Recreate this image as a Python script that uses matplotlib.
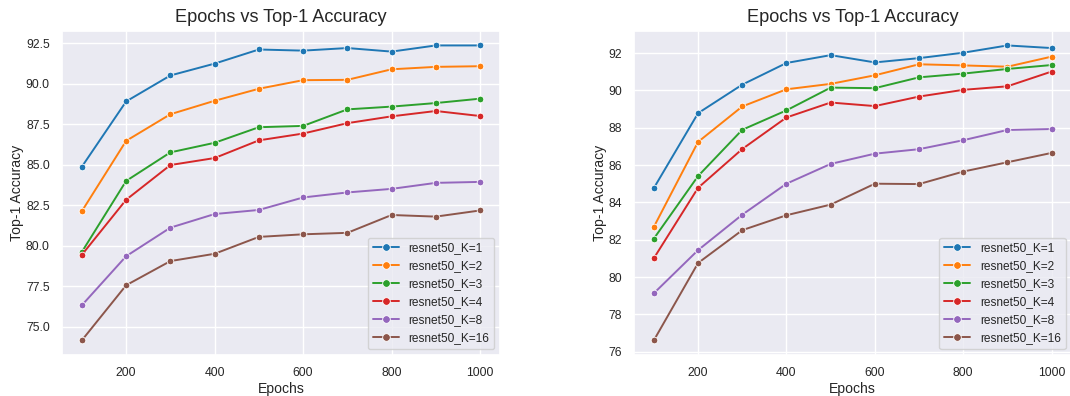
import matplotlib
matplotlib.use("Agg")
import matplotlib.pyplot as plt
import seaborn as sns

epochs = [100, 200, 300, 400, 500, 600, 700, 800, 900, 1000]
labels = ["resnet50_K=1", "resnet50_K=2", "resnet50_K=3", "resnet50_K=4", "resnet50_K=8", "resnet50_K=16"]

left_k1 = [84.88, 88.90, 90.50, 91.23, 92.10, 92.03, 92.19, 91.97, 92.35, 92.35]
left_k2 = [82.14, 86.47, 88.11, 88.94, 89.68, 90.21, 90.23, 90.88, 91.03, 91.07]
left_k3 = [79.63, 84.00, 85.76, 86.35, 87.31, 87.39, 88.41, 88.58, 88.80, 89.07]
left_k4 = [79.45, 82.84, 84.98, 85.41, 86.50, 86.92, 87.56, 87.98, 88.31, 88.00]
left_k8 = [76.34, 79.36, 81.12, 81.96, 82.21, 82.98, 83.29, 83.51, 83.88, 83.94]
left_k16 = [74.18, 77.57, 79.06, 79.51, 80.55, 80.71, 80.80, 81.90, 81.80, 82.18]

right_k1 = [84.77, 88.78, 90.31, 91.47, 91.89, 91.50, 91.73, 92.02, 92.41, 92.27]
right_k2 = [82.69, 87.24, 89.14, 90.06, 90.35, 90.81, 91.40, 91.34, 91.27, 91.81]
right_k3 = [82.06, 85.41, 87.89, 88.93, 90.15, 90.12, 90.70, 90.90, 91.15, 91.36]
right_k4 = [81.01, 84.78, 86.86, 88.55, 89.35, 89.16, 89.67, 90.03, 90.22, 91.01]
right_k8 = [79.13, 81.44, 83.34, 85.00, 86.06, 86.61, 86.85, 87.33, 87.88, 87.93]
right_k16 = [76.61, 80.75, 82.51, 83.31, 83.88, 85.00, 84.98, 85.65, 86.15, 86.65]

left_series = [left_k1, left_k2, left_k3, left_k4, left_k8, left_k16]
right_series = [right_k1, right_k2, right_k3, right_k4, right_k8, right_k16]

sns.set_theme(style="darkgrid")
plt.rcParams['font.family'] = ['Liberation Sans', 'DejaVu Sans']

W, H = 1070, 396
fig = plt.figure(figsize=(W / 100, H / 100), dpi=100)
ax1 = fig.add_axes([62 / W, (H - 355) / H, (500 - 62) / W, (355 - 30.7) / H])
ax2 = fig.add_axes([634 / W, (H - 355) / H, (1071.5 - 634) / W, (355 - 30.7) / H])

colors = sns.color_palette("tab10")
for ax, series in [(ax1, left_series), (ax2, right_series)]:
    for i, (lab, vals) in enumerate(zip(labels, series)):
        ax.plot(epochs, vals, marker='o', color=colors[i], label=lab,
                markersize=4.8, markeredgecolor='white', markeredgewidth=0.6, linewidth=1.4)
    ax.set_title("Epochs vs Top-1 Accuracy", fontsize=13.1)
    ax.set_xlabel("Epochs", fontsize=10.1, labelpad=1.5)
    ax.set_ylabel("Top-1 Accuracy", fontsize=10.1, labelpad=1)
    ax.tick_params(axis='x', labelsize=8.8, pad=3)
    ax.tick_params(axis='y', labelsize=8.8, pad=2.8)
    ax.legend(loc="lower right", fontsize=8.6, markerscale=1.15, handlelength=2.2)

fig.savefig("out.png", dpi=100)
